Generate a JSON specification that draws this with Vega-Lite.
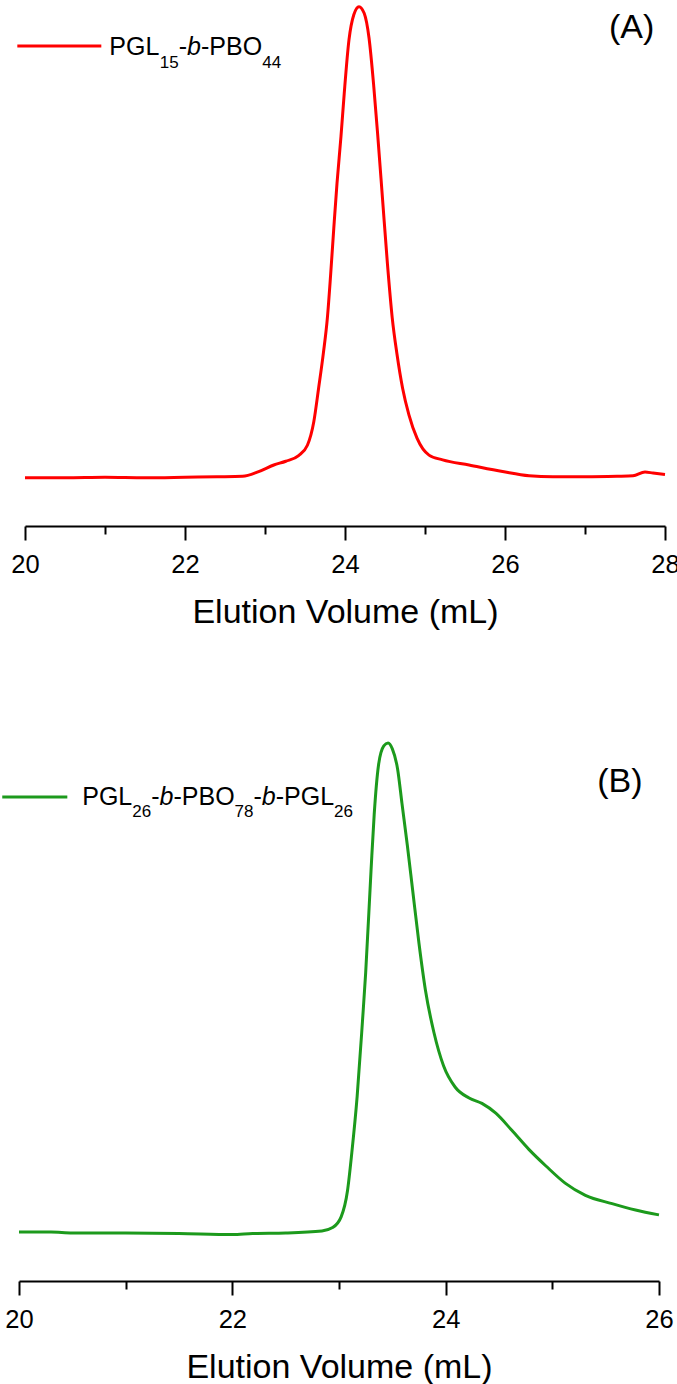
{
  "$schema": "https://vega.github.io/schema/vega-lite/v6.json",
  "padding": 0,
  "background": "white",
  "spacing": 96,
  "config": {
    "view": {"stroke": null},
    "font": "Liberation Sans",
    "axis": {
      "grid": false,
      "domainColor": "black",
      "domainWidth": 2,
      "tickColor": "black",
      "tickWidth": 2,
      "labelFont": "Liberation Sans",
      "labelFontSize": 25.5,
      "labelColor": "black",
      "labelPadding": 12,
      "labelFlush": false,
      "labelOverlap": false,
      "titleFont": "Liberation Sans",
      "titleFontSize": 34,
      "titleFontWeight": "normal",
      "titleColor": "black",
      "titlePadding": 18
    }
  },
  "vconcat": [
    {
      "width": 646,
      "height": 521,
      "encoding": {
        "x": {"field": "x", "type": "quantitative",
          "scale": {"domain": [20, 28], "range": [6, 646], "nice": false, "zero": false},
          "axis": {"title": "Elution Volume (mL)", "values": [20, 21, 22, 23, 24, 25, 26, 27, 28],
            "tickSize": {"condition": {"test": "datum.value % 2 !== 0", "value": 8}, "value": 14},
            "labelExpr": "datum.value % 2 === 0 ? datum.label : ''"}},
        "y": {"field": "v", "type": "quantitative",
          "scale": {"domain": [-0.1025, 1.0036], "nice": false, "zero": false}, "axis": null}
      },
      "layer": [
        {
          "data": {"values": [
            {"x": 20.0, "v": 0.000}, {"x": 20.5, "v": 0.000}, {"x": 21.0, "v": 0.001}, {"x": 21.5, "v": 0.000},
            {"x": 22.0, "v": 0.001}, {"x": 22.4, "v": 0.002}, {"x": 22.72, "v": 0.003}, {"x": 22.92, "v": 0.013},
            {"x": 23.11, "v": 0.027}, {"x": 23.26, "v": 0.035}, {"x": 23.42, "v": 0.047}, {"x": 23.53, "v": 0.069},
            {"x": 23.61, "v": 0.119}, {"x": 23.67, "v": 0.190}, {"x": 23.73, "v": 0.265}, {"x": 23.78, "v": 0.340},
            {"x": 23.82, "v": 0.430}, {"x": 23.86, "v": 0.530}, {"x": 23.90, "v": 0.625}, {"x": 23.95, "v": 0.725},
            {"x": 23.99, "v": 0.815}, {"x": 24.05, "v": 0.930}, {"x": 24.11, "v": 0.983}, {"x": 24.175, "v": 1.0},
            {"x": 24.24, "v": 0.986}, {"x": 24.30, "v": 0.934}, {"x": 24.36, "v": 0.830}, {"x": 24.41, "v": 0.725},
            {"x": 24.47, "v": 0.590}, {"x": 24.53, "v": 0.455}, {"x": 24.59, "v": 0.340}, {"x": 24.65, "v": 0.262},
            {"x": 24.72, "v": 0.190}, {"x": 24.80, "v": 0.133}, {"x": 24.90, "v": 0.084}, {"x": 25.05, "v": 0.048},
            {"x": 25.22, "v": 0.038}, {"x": 25.55, "v": 0.027}, {"x": 25.97, "v": 0.013}, {"x": 26.3, "v": 0.004},
            {"x": 26.6, "v": 0.002}, {"x": 27.0, "v": 0.002}, {"x": 27.4, "v": 0.003}, {"x": 27.6, "v": 0.004},
            {"x": 27.75, "v": 0.012}, {"x": 27.85, "v": 0.010}, {"x": 28.0, "v": 0.007}
          ]},
          "mark": {"type": "line", "color": "#ff0000", "strokeWidth": 3, "interpolate": "monotone"}
        },
        {
          "data": {"values": [{"x": 19.904, "x2": 20.954, "v": 0.9166}]},
          "mark": {"type": "rule", "color": "#ff0000", "strokeWidth": 3},
          "encoding": {"x2": {"field": "x2"}}
        },
        {
          "data": {"values": [
            {"x": 21.054, "v": 0.8977, "t": "PGL"},
            {"x": 21.923, "v": 0.8977, "t": "-"},
            {"x": 22.20, "v": 0.8977, "t": "-PBO"}
          ]},
          "mark": {"type": "text", "align": "left", "baseline": "alphabetic", "fontSize": 25, "color": "black", "font": "Liberation Sans"},
          "encoding": {"text": {"field": "t"}}
        },
        {
          "data": {"values": [
            {"x": 22.026, "v": 0.8977, "t": "b"}
          ]},
          "mark": {"type": "text", "align": "left", "baseline": "alphabetic", "fontSize": 25, "fontStyle": "italic", "color": "black", "font": "Liberation Sans"},
          "encoding": {"text": {"field": "t"}}
        },
        {
          "data": {"values": [
            {"x": 21.685, "v": 0.8699, "t": "15"},
            {"x": 22.966, "v": 0.8699, "t": "44"}
          ]},
          "mark": {"type": "text", "align": "left", "baseline": "alphabetic", "fontSize": 17, "color": "black", "font": "Liberation Sans"},
          "encoding": {"text": {"field": "t"}}
        },
        {
          "data": {"values": [{"x": 27.30, "v": 0.9335, "t": "(A)"}]},
          "mark": {"type": "text", "align": "left", "baseline": "alphabetic", "fontSize": 34, "color": "black", "font": "Liberation Sans"},
          "encoding": {"text": {"field": "t"}}
        }
      ]
    },
    {
      "width": 640,
      "height": 555,
      "encoding": {
        "x": {"field": "x", "type": "quantitative",
          "scale": {"domain": [20, 26], "nice": false, "zero": false},
          "axis": {"title": "Elution Volume (mL)", "values": [20, 21, 22, 23, 24, 25, 26],
            "tickSize": {"condition": {"test": "datum.value % 2 !== 0", "value": 8}, "value": 14},
            "labelExpr": "datum.value % 2 === 0 ? datum.label : ''"}},
        "y": {"field": "v", "type": "quantitative",
          "scale": {"domain": [-0.1002, 1.0348], "nice": false, "zero": false}, "axis": null}
      },
      "layer": [
        {
          "data": {"values": [
            {"x": 20.0, "v": 0.000}, {"x": 20.3, "v": 0.000}, {"x": 20.5, "v": -0.002}, {"x": 21.0, "v": -0.002},
            {"x": 21.5, "v": -0.003}, {"x": 22.0, "v": -0.005}, {"x": 22.19, "v": -0.003}, {"x": 22.5, "v": -0.002},
            {"x": 22.84, "v": 0.002}, {"x": 22.94, "v": 0.009}, {"x": 23.02, "v": 0.031}, {"x": 23.08, "v": 0.085},
            {"x": 23.12, "v": 0.162}, {"x": 23.17, "v": 0.277}, {"x": 23.22, "v": 0.431}, {"x": 23.25, "v": 0.530},
            {"x": 23.30, "v": 0.738}, {"x": 23.33, "v": 0.854}, {"x": 23.37, "v": 0.954}, {"x": 23.42, "v": 0.994},
            {"x": 23.46, "v": 1.0}, {"x": 23.50, "v": 0.988}, {"x": 23.55, "v": 0.946}, {"x": 23.59, "v": 0.877},
            {"x": 23.64, "v": 0.792}, {"x": 23.69, "v": 0.700}, {"x": 23.75, "v": 0.590}, {"x": 23.81, "v": 0.495},
            {"x": 23.89, "v": 0.408}, {"x": 23.98, "v": 0.340}, {"x": 24.09, "v": 0.296}, {"x": 24.22, "v": 0.274},
            {"x": 24.34, "v": 0.263}, {"x": 24.47, "v": 0.243}, {"x": 24.62, "v": 0.208}, {"x": 24.78, "v": 0.169},
            {"x": 24.94, "v": 0.135}, {"x": 25.12, "v": 0.100}, {"x": 25.31, "v": 0.075}, {"x": 25.56, "v": 0.058},
            {"x": 25.78, "v": 0.045}, {"x": 26.0, "v": 0.035}
          ]},
          "mark": {"type": "line", "color": "#1c9a1c", "strokeWidth": 3, "interpolate": "monotone"}
        },
        {
          "data": {"values": [{"x": 19.843, "x2": 20.453, "v": 0.8896}]},
          "mark": {"type": "rule", "color": "#1c9a1c", "strokeWidth": 3},
          "encoding": {"x2": {"field": "x2"}}
        },
        {
          "data": {"values": [
            {"x": 20.593, "v": 0.8732, "t": "PGL"},
            {"x": 21.240, "v": 0.8732, "t": "-"},
            {"x": 21.448, "v": 0.8732, "t": "-PBO"},
            {"x": 22.199, "v": 0.8732, "t": "-"},
            {"x": 22.407, "v": 0.8732, "t": "-PGL"}
          ]},
          "mark": {"type": "text", "align": "left", "baseline": "alphabetic", "fontSize": 25, "color": "black", "font": "Liberation Sans"},
          "encoding": {"text": {"field": "t"}}
        },
        {
          "data": {"values": [
            {"x": 21.318, "v": 0.8732, "t": "b"},
            {"x": 22.276, "v": 0.8732, "t": "b"}
          ]},
          "mark": {"type": "text", "align": "left", "baseline": "alphabetic", "fontSize": 25, "fontStyle": "italic", "color": "black", "font": "Liberation Sans"},
          "encoding": {"text": {"field": "t"}}
        },
        {
          "data": {"values": [
            {"x": 21.062, "v": 0.8487, "t": "26"},
            {"x": 22.021, "v": 0.8487, "t": "78"},
            {"x": 22.954, "v": 0.8487, "t": "26"}
          ]},
          "mark": {"type": "text", "align": "left", "baseline": "alphabetic", "fontSize": 17, "color": "black", "font": "Liberation Sans"},
          "encoding": {"text": {"field": "t"}}
        },
        {
          "data": {"values": [{"x": 25.42, "v": 0.8998, "t": "(B)"}]},
          "mark": {"type": "text", "align": "left", "baseline": "alphabetic", "fontSize": 34, "color": "black", "font": "Liberation Sans"},
          "encoding": {"text": {"field": "t"}}
        }
      ]
    }
  ]
}
